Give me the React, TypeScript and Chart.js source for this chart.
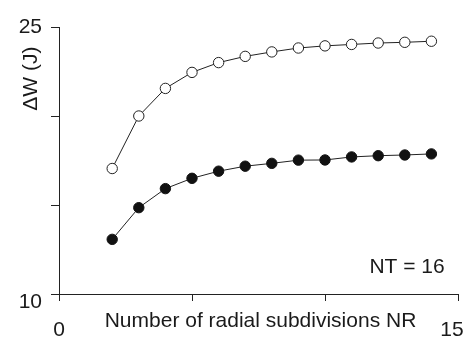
import React, { useEffect, useRef } from "react";
import { Chart, registerables } from "chart.js";

Chart.register(...registerables);

const NR = [2, 3, 4, 5, 6, 7, 8, 9, 10, 11, 12, 13, 14];
const openSeries = [17.05, 20.0, 21.55, 22.45, 23.0, 23.35, 23.6, 23.82, 23.94, 24.02, 24.1, 24.14, 24.2];
const filledSeries = [13.07, 14.85, 15.92, 16.5, 16.9, 17.18, 17.34, 17.52, 17.53, 17.7, 17.77, 17.81, 17.87];
const yTickLabels: Record<number, string> = { 10: "10", 25: "25" };
const xTickLabels: Record<number, string> = { 0: "0", 15: "15" };
const xTitle = "Number of radial subdivisions NR";
const yTitle = "ΔW (J)";
const note = "NT = 16";

const FONT = '21px "Liberation Sans", Arial, sans-serif';

const textPlugin = {
  id: "texts",
  afterDraw(chart: any) {
    const ctx = chart.ctx;
    const xs = chart.scales.x;
    const ys = chart.scales.y;
    const area = chart.chartArea;
    ctx.save();
    ctx.fillStyle = "#1a1a1a";
    ctx.font = FONT;
    ctx.textBaseline = "middle";
    // y tick labels
    ctx.textAlign = "right";
    Object.keys(yTickLabels).forEach((k) => {
      const v = Number(k);
      const py = ys.getPixelForValue(v) + (v === 10 ? 8 : 0);
      ctx.fillText(yTickLabels[v], area.left - 17, py);
    });
    // x tick labels
    ctx.textAlign = "center";
    Object.keys(xTickLabels).forEach((k) => {
      const v = Number(k);
      const px = xs.getPixelForValue(v) + (v === 15 ? -6 : 0);
      ctx.fillText(xTickLabels[v], px, area.bottom + 36);
    });
    // x title
    ctx.fillText(xTitle, (area.left + area.right) / 2 + 2, area.bottom + 27);
    // note
    ctx.textAlign = "right";
    ctx.fillText(note, xs.getPixelForValue(14.5), ys.getPixelForValue(11.5));
    // y title
    ctx.translate(area.left - 28, ys.getPixelForValue(22.1));
    ctx.rotate(-Math.PI / 2);
    ctx.textAlign = "center";
    ctx.fillText(yTitle, 0, 0);
    ctx.restore();
  },
};

export default function App() {
  const ref = useRef<HTMLCanvasElement | null>(null);
  useEffect(() => {
    document.body.style.margin = "0";
    const canvas = ref.current!;
    const chart = new Chart(canvas, {
      type: "scatter",
      data: {
        datasets: [
          {
            label: "open",
            data: NR.map((x, i) => ({ x, y: openSeries[i] })),
            showLine: true,
            borderColor: "#222",
            borderWidth: 1,
            pointRadius: 5.2,
            pointBackgroundColor: "#ffffff",
            pointBorderColor: "#222",
            pointBorderWidth: 1,
          },
          {
            label: "filled",
            data: NR.map((x, i) => ({ x, y: filledSeries[i] })),
            showLine: true,
            borderColor: "#222",
            borderWidth: 1,
            pointRadius: 5.2,
            pointBackgroundColor: "#111",
            pointBorderColor: "#111",
            pointBorderWidth: 1,
          },
        ],
      },
      options: {
        animation: false,
        responsive: false,
        events: [],
        layout: { padding: { top: 27, right: 16, left: 0, bottom: 0 } },
        plugins: { legend: { display: false }, tooltip: { enabled: false } },
        scales: {
          x: {
            type: "linear",
            min: 0,
            max: 15,
            ticks: { stepSize: 5, display: false },
            grid: { drawOnChartArea: false, drawTicks: true, tickLength: 7, color: "#222", lineWidth: 1 },
            border: { display: true, color: "#222", width: 1 },
            afterFit: (s: any) => { s.height = 44; },
          },
          y: {
            type: "linear",
            min: 10,
            max: 25,
            ticks: { stepSize: 5, display: false },
            grid: { drawOnChartArea: false, drawTicks: true, tickLength: 8, color: "#222", lineWidth: 1 },
            border: { display: true, color: "#222", width: 1 },
            afterFit: (s: any) => { s.width = 59; },
          },
        },
      },
      plugins: [textPlugin],
    });
    return () => chart.destroy();
  }, []);
  return <canvas ref={ref} width={474} height={338} style={{ display: "block" }} />;
}
